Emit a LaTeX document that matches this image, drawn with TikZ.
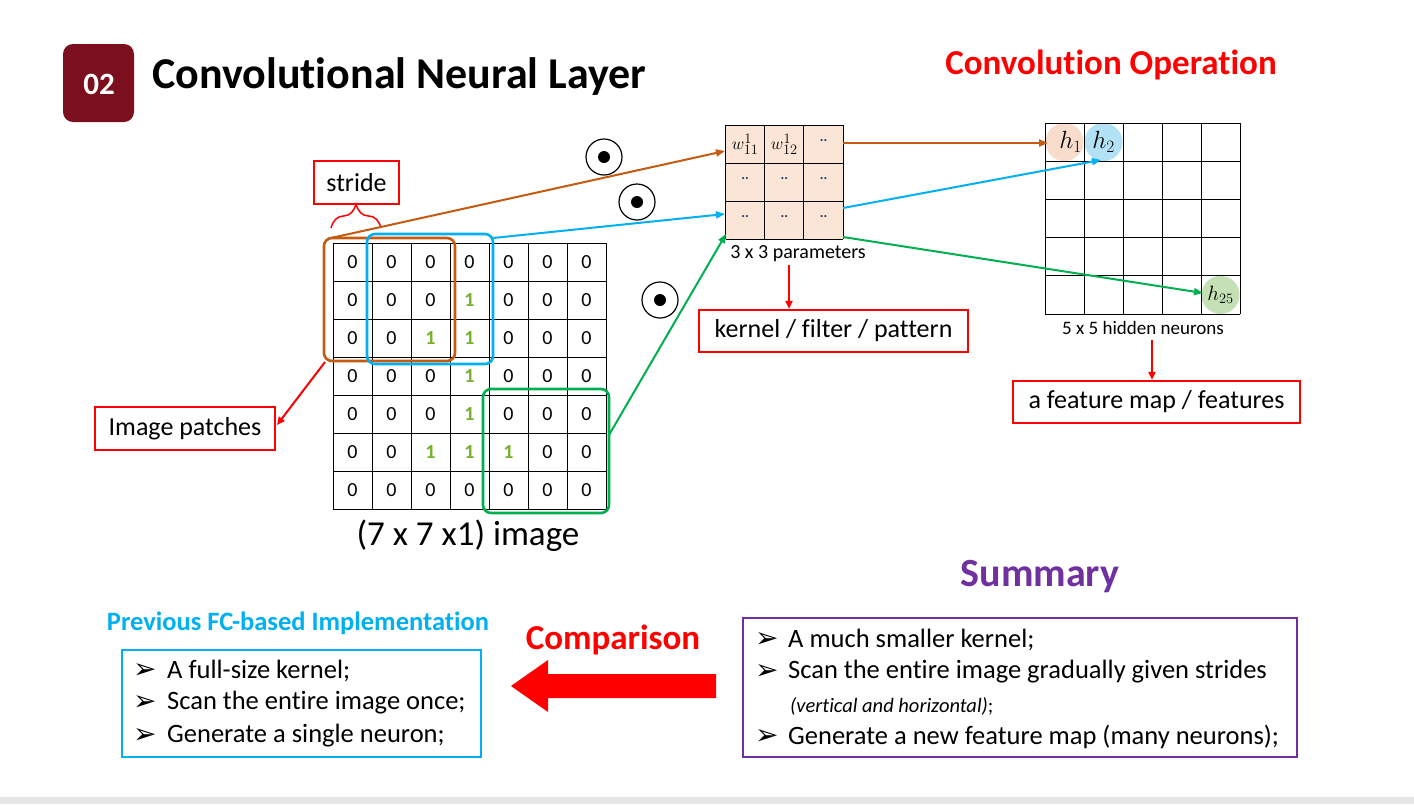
\documentclass[tikz,border=0pt]{standalone}
\usepackage{fontspec}
\setmainfont{Carlito}[Ligatures=NoCommon]
\newfontfamily\dejavu{DejaVu Sans}
\usetikzlibrary{arrows.meta,decorations.pathreplacing,calc}
\definecolor{cbrown}{HTML}{C55A11}
\definecolor{cblue}{HTML}{00B0F0}
\definecolor{cgreen}{HTML}{00B050}
\definecolor{cone}{HTML}{78B22C}
\definecolor{cred}{HTML}{FF0000}
\definecolor{cpurple}{HTML}{7030A0}
\definecolor{cbadge}{HTML}{7B0F1E}
\definecolor{cpeach}{HTML}{FBE5D6}
\definecolor{cpeachc}{HTML}{F8DDCC}
\definecolor{cbluec}{HTML}{B3E2F6}
\definecolor{cgreenc}{HTML}{C5E0B4}
\definecolor{cdots}{HTML}{1F3864}
\definecolor{cstrip}{HTML}{E6E6E6}
\tikzset{
  cell/.style={font=\fontsize{20}{20}\selectfont},
  onecell/.style={font=\fontsize{20}{20}\selectfont\bfseries, text=cone},
  redbox/.style={draw=cred, line width=2.2pt, font=\fontsize{26}{26}\selectfont, inner sep=0pt},
  redarrow/.style={cred, line width=2pt, -{Triangle[length=8pt,width=7pt]}},
  flow/.style={line width=2pt, -{Triangle[length=9pt,width=7pt]}},
  patch/.style={line width=2.6pt, rounded corners=8pt},
  odot/.style={draw, line width=1.2pt, circle, minimum size=36pt, inner sep=0pt},
  item/.style={anchor=west, font=\fontsize{26.5}{26.5}\selectfont, inner sep=0pt},
  bul/.style={anchor=west, font=\dejavu\fontsize{28}{28}\selectfont, inner sep=0pt},
}
\begin{document}
\begin{tikzpicture}[x=1pt,y=-1pt]
\useasboundingbox (0,0) rectangle (1414,804);
\fill[white] (0,0) rectangle (1414,804);
\fill[cstrip] (0,797) rectangle (1414,804);

% title
\fill[cbadge, rounded corners=10pt] (63,44) rectangle (134,122);
\node[text=white, font=\fontsize{31}{31}\selectfont\bfseries] (badge) at (99,84) {02};
\node[anchor=west, font=\fontsize{44}{44}\selectfont\bfseries, inner sep=0pt] (title) at (152,77) {Convolutional Neural Layer};
\node[text=cred, font=\fontsize{35}{35}\selectfont\bfseries] (convop) at (1111,65) {Convolution Operation};

% 7x7 image grid
\def\gx{333}\def\gy{243}\def\cw{39}\def\ch{38}
\foreach \i in {0,...,7}{
  \draw[line width=1pt] (\gx+\i*\cw,\gy) -- (\gx+\i*\cw,\gy+7*\ch);
  \draw[line width=1pt] (\gx,\gy+\i*\ch) -- (\gx+7*\cw,\gy+\i*\ch);
}
\foreach \row/\vals in {1/{0,0,0,0,0,0,0},2/{0,0,0,1,0,0,0},3/{0,0,1,1,0,0,0},4/{0,0,0,1,0,0,0},5/{0,0,0,1,0,0,0},6/{0,0,1,1,1,0,0},7/{0,0,0,0,0,0,0}}{
  \foreach \v [count=\col] in \vals {
    \ifnum\v=1
      \node[onecell] (g-\row-\col) at (\gx+\col*\cw-\cw/2,\gy+\row*\ch-\ch/2) {1};
    \else
      \node[cell] (g-\row-\col) at (\gx+\col*\cw-\cw/2,\gy+\row*\ch-\ch/2) {0};
    \fi
  }
}
\node[font=\fontsize{35}{35}\selectfont] (imglabel) at (468,536) {(7 x 7 x1) image};

% patches
\draw[patch, cbrown] (324,238) rectangle (455,361);
\draw[patch, cblue] (367,234) rectangle (493,364);
\draw[patch, cgreen] (483,389) rectangle (609,513);
\coordinate (pbrown) at (331,238);
\coordinate (pblue) at (493,238);
\coordinate (pgreen) at (609,435);

% stride
\node[redbox, minimum width=85pt, minimum height=43pt] (stride) at (356.5,182.5) {stride};
\draw[cred, line width=1.5pt, decorate, decoration={brace, amplitude=24pt}] (331,228) -- (381,228);

% kernel
\def\kx{725.5}\def\ky{125}\def\kw{39.2}\def\kh{38}
\fill[cpeach] (\kx,\ky) rectangle (\kx+3*\kw,\ky+3*\kh);
\foreach \i in {0,...,3}{
  \draw[line width=1pt] (\kx+\i*\kw,\ky) -- (\kx+\i*\kw,\ky+3*\kh);
  \draw[line width=1pt] (\kx,\ky+\i*\kh) -- (\kx+3*\kw,\ky+\i*\kh);
}
\foreach \r in {1,2,3}{\foreach \c in {1,2,3}{
  \coordinate (k-\r-\c) at (\kx+\c*\kw-\kw/2,\ky+\r*\kh-\kh/2);
}}
\node[font=\fontsize{19}{19}\selectfont, inner sep=0pt] (w11) at (k-1-1) {$w_{11}^{1}$};
\node[font=\fontsize{19}{19}\selectfont, inner sep=0pt] (w12) at (k-1-2) {$w_{12}^{1}$};
\foreach \r/\c in {1/3,2/1,2/2,2/3,3/1,3/2,3/3}{
  \node[text=cdots, font=\fontsize{14}{14}\selectfont\bfseries] (kd-\r-\c) at ($(k-\r-\c)+(0,-3)$) {..};
}
\node[font=\fontsize{20}{20}\selectfont] (klabel) at (798,254) {3 x 3 parameters};
\coordinate (kin1) at (725,151);
\coordinate (kin2) at (725,214);
\coordinate (kin3) at (726,234);
\coordinate (kout1) at (843,143);
\coordinate (kout2) at (843,208);
\coordinate (kout3) at (843,237);

% odot symbols
\node[odot] (od1) at (604,157) {};
\fill (od1.center) circle (6pt);
\node[odot] (od2) at (637,202) {};
\fill (od2.center) circle (6pt);
\node[odot] (od3) at (660,300) {};
\fill (od3.center) circle (6pt);

% feature map
\def\fx{1045}\def\fy{123}\def\fw{39}\def\fh{38.2}
\fill[cpeachc] (\fx+\fw/2,\fy+\fh/2) circle (19pt);
\fill[cbluec] (\fx+1.5*\fw,\fy+\fh/2) circle (19pt);
\fill[cgreenc] (\fx+4.5*\fw,\fy+4.5*\fh) circle (19pt);
\foreach \i in {0,...,5}{
  \draw[line width=1pt] (\fx+\i*\fw,\fy) -- (\fx+\i*\fw,\fy+5*\fh);
  \draw[line width=1pt] (\fx,\fy+\i*\fh) -- (\fx+5*\fw,\fy+\i*\fh);
}
\node[font=\fontsize{24}{24}\selectfont] (h1) at (\fx+\fw/2+6,\fy+\fh/2) {$h_1$};
\node[font=\fontsize{24}{24}\selectfont] (h2) at (\fx+1.5*\fw,\fy+\fh/2) {$h_2$};
\node[font=\fontsize{21}{21}\selectfont] (h25) at (\fx+4.5*\fw,\fy+4.5*\fh) {$h_{25}$};
\coordinate (fin1) at (1048,143);
\coordinate (fin2) at (1101,160);
\coordinate (fin3) at (1203,293);
\node[font=\fontsize{19}{19}\selectfont] (flabel) at (1143,328) {5 x 5 hidden neurons};

% flows
\draw[flow, cbrown] (pbrown) -- (kin1);
\draw[flow, cblue] (pblue) -- (kin2);
\draw[flow, cgreen] (pgreen) -- (kin3);
\draw[flow, cbrown] (kout1) -- (fin1);
\draw[flow, cblue] (kout2) -- (fin2);
\draw[flow, cgreen] (kout3) -- (fin3);

% red label boxes
\node[redbox, minimum width=269pt, minimum height=42pt] (kbox) at (833.5,331) {kernel / filter / pattern};
\node[redbox, minimum width=287pt, minimum height=42pt] (fbox) at (1156.5,402) {a feature map / features};
\node[redbox, minimum width=180pt, minimum height=43pt] (pbox) at (185,428.5) {Image patches};
\coordinate (ka) at (789,265);
\coordinate (fa) at (1152,340);
\coordinate (pa) at (325,362);
\draw[redarrow] (ka) -- (kbox.north -| ka);
\draw[redarrow] (fa) -- (fbox.north -| fa);
\draw[redarrow] (pa) -- (277,425);

% summary
\node[text=cpurple, font=\fontsize{40}{40}\selectfont\bfseries] (sumtitle) at (1040,577) {Summary};
\draw[cpurple, line width=2.2pt] (743,618) rectangle (1297,757);
\node[bul] (sb1) at (755,640) {➢};
\node[item] (s1) at (788,640) {A much smaller kernel;};
\node[bul] (sb2) at (755,672) {➢};
\node[item] (s2) at (788,672) {Scan the entire image gradually given strides};
\node[anchor=west, inner sep=0pt, font=\fontsize{20.5}{20.5}\selectfont] (s2b) at (790,706) {\textit{(vertical and horizontal)};};
\node[bul] (sb3) at (755,737) {➢};
\node[item] (s3) at (788,737) {Generate a new feature map (many neurons);};

% previous
\node[text=cblue, font=\fontsize{26.5}{26.5}\selectfont\bfseries] (prevtitle) at (298,623) {Previous FC-based Implementation};
\draw[cblue, line width=2.2pt] (122,650) rectangle (481,757);
\node[bul] (pb1) at (133,671) {➢};
\node[item] (p1) at (167,671) {A full-size kernel;};
\node[bul] (pb2) at (133,703) {➢};
\node[item] (p2) at (167,703) {Scan the entire image once;};
\node[bul] (pb3) at (133,736) {➢};
\node[item] (p3) at (167,736) {Generate a single neuron;};

% comparison
\node[text=cred, font=\fontsize{35}{35}\selectfont\bfseries] (comp) at (613,640) {Comparison};
\fill[cred] (716,674) -- (548,674) -- (548,660) -- (511,686) -- (548,712) -- (548,698) -- (716,698) -- cycle;
\end{tikzpicture}
\end{document}
